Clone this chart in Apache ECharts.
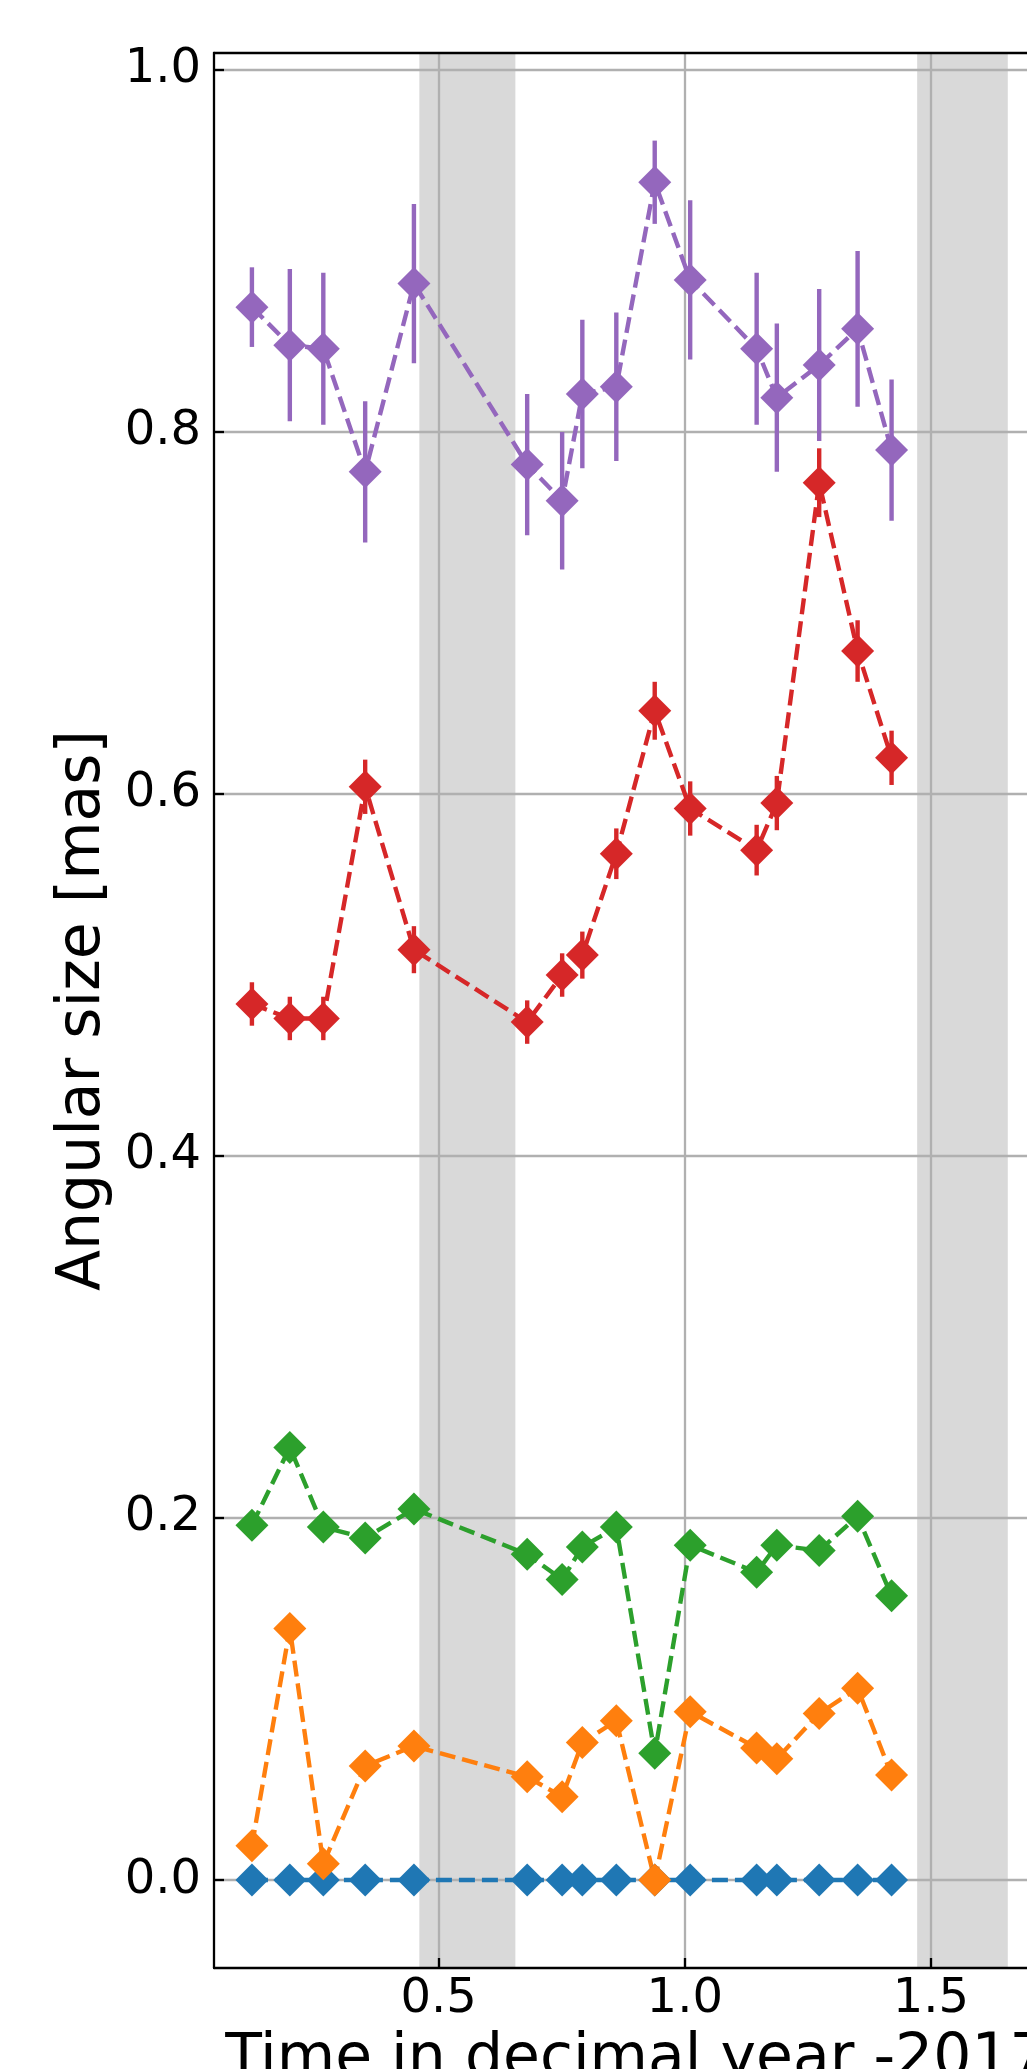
<!DOCTYPE html>
<html><head><meta charset="utf-8">
<script src="https://cdn.jsdelivr.net/npm/echarts@6/dist/echarts.min.js"></script>
<style>html,body{margin:0;padding:0;background:#fff}#c{width:1027px;height:2069px}</style>
</head><body><div id="c"></div>
<script>
const times = [0.121,0.198,0.266,0.351,0.450,0.680,0.751,0.792,0.861,0.939,1.011,1.146,1.187,1.273,1.351,1.420];
const sizeBlue = [0,0,0,0,0,0,0,0,0,0,0,0,0,0,0,0];
const sizeOrange = [0.019,0.139,0.009,0.063,0.074,0.057,0.046,0.076,0.088,0.000,0.093,0.073,0.067,0.092,0.106,0.058];
const sizeGreen = [0.196,0.239,0.195,0.189,0.205,0.180,0.166,0.184,0.195,0.070,0.185,0.170,0.185,0.182,0.201,0.157];
const sizeRed = [0.484,0.476,0.476,0.604,0.514,0.474,0.500,0.511,0.567,0.646,0.592,0.569,0.595,0.772,0.679,0.620];
const errRed = [0.012,0.012,0.012,0.015,0.013,0.012,0.012,0.013,0.014,0.016,0.015,0.014,0.015,0.019,0.017,0.015];
const sizePurple = [0.869,0.848,0.846,0.778,0.882,0.782,0.762,0.821,0.825,0.938,0.884,0.846,0.819,0.837,0.857,0.790];
const errPurple = [0.022,0.042,0.042,0.039,0.044,0.039,0.038,0.041,0.041,0.023,0.044,0.042,0.041,0.042,0.043,0.039];
const shadeStart = [0.461,1.472];
const shadeEnd = [0.656,1.656];
const xTicks = [0.5,1.0,1.5];
const yTicks = [0.0,0.2,0.4,0.6,0.8,1.0];
const xMin = 0.044, xMax = 1.76, yMin = -0.0486, yMax = 1.0094;

const FONT = 'DejaVu Sans';
const fmt = v => Number(v).toFixed(1);

function lineSeries(name, vals, color) {
  return {
    type: 'line', name: name,
    data: times.map((t, i) => [t, vals[i]]),
    symbol: 'diamond', symbolSize: 33,
    itemStyle: { color: color },
    lineStyle: { color: color, width: 4.4, type: [16, 7] },
    z: 3, animation: false, silent: true
  };
}
function errSeries(vals, errs, color) {
  return {
    type: 'custom',
    data: times.map((t, i) => [t, vals[i], errs[i]]),
    encode: { x: 0, y: 1 },
    renderItem: function (params, api) {
      const x = api.value(0), y = api.value(1), e = api.value(2);
      const p1 = api.coord([x, y - e]), p2 = api.coord([x, y + e]);
      return { type: 'line', shape: { x1: p1[0], y1: p1[1], x2: p2[0], y2: p2[1] },
               style: { stroke: color, lineWidth: 4.4 } };
    },
    z: 3, animation: false, silent: true
  };
}
const shadeSeries = {
  type: 'custom',
  data: shadeStart.map((s, i) => [s, shadeEnd[i]]),
  encode: { x: [0, 1] },
  renderItem: function (params, api) {
    const cs = params.coordSys;
    const a = api.coord([api.value(0), 0]), b = api.coord([api.value(1), 0]);
    return { type: 'rect', shape: { x: a[0], y: cs.y, width: b[0] - a[0], height: cs.height },
             style: { fill: 'rgba(128,128,128,0.3)' } };
  },
  z: -1, animation: false, silent: true
};

const chart = echarts.init(document.getElementById('c'), null, { renderer: 'canvas' });
chart.setOption({
  backgroundColor: '#ffffff',
  animation: false,
  grid: { left: 214, top: 53, width: 845, height: 1915, containLabel: false, outerBoundsMode: 'none' },
  xAxis: [{
    type: 'value', min: xMin, max: xMax, position: 'bottom',
    axisLine: { show: true, onZero: false, lineStyle: { color: '#000', width: 2.3 } },
    axisTick: { show: true, inside: true, length: 10, customValues: xTicks, lineStyle: { color: '#000', width: 2.3 } },
    axisLabel: { customValues: xTicks, formatter: fmt, fontSize: 48, color: '#000', fontFamily: FONT, margin: 8 },
    splitLine: { show: true, lineStyle: { color: '#b0b0b0', width: 2.3 } },
    name: 'Time in decimal year -2017', nameLocation: 'middle', nameGap: 62,
    nameTextStyle: { fontSize: 60, color: '#000', fontFamily: FONT }
  }, {
    type: 'value', min: xMin, max: xMax, position: 'top',
    axisLine: { show: true, onZero: false, lineStyle: { color: '#000', width: 2.3 } },
    axisTick: { show: false }, axisLabel: { show: false }, splitLine: { show: false }
  }],
  yAxis: [{
    type: 'value', min: yMin, max: yMax,
    axisLine: { show: true, onZero: false, lineStyle: { color: '#000', width: 2.3 } },
    axisTick: { show: true, inside: true, length: 10, customValues: yTicks, lineStyle: { color: '#000', width: 2.3 } },
    axisLabel: { customValues: yTicks, formatter: fmt, fontSize: 48, color: '#000', fontFamily: FONT, margin: 13 },
    splitLine: { show: true, lineStyle: { color: '#b0b0b0', width: 2.3 } },
    name: 'Angular size [mas]', nameLocation: 'middle', nameGap: 100, nameRotate: 90,
    nameTextStyle: { fontSize: 60, color: '#000', fontFamily: FONT }
  }],
  series: [
    shadeSeries,
    lineSeries('blue', sizeBlue, '#1f77b4'),
    lineSeries('orange', sizeOrange, '#ff7f0e'),
    lineSeries('green', sizeGreen, '#2ca02c'),
    lineSeries('red', sizeRed, '#d62728'),
    errSeries(sizeRed, errRed, '#d62728'),
    lineSeries('purple', sizePurple, '#9467bd'),
    errSeries(sizePurple, errPurple, '#9467bd')
  ]
});
</script>
</body></html>
